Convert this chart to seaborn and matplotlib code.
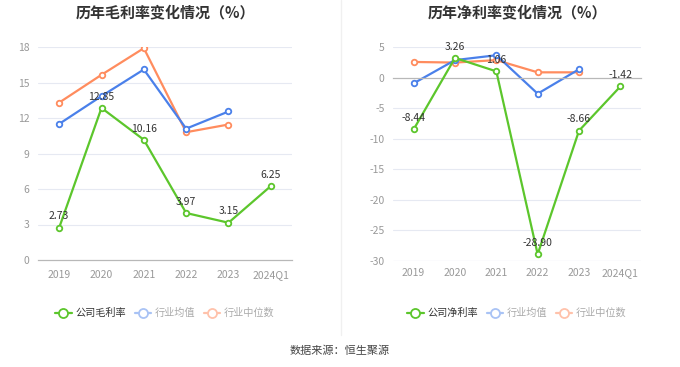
import matplotlib
matplotlib.use("Agg")
import matplotlib.pyplot as plt
import seaborn as sns
import pandas as pd
from matplotlib.lines import Line2D

sns.set_theme(style="white")
plt.rcParams['font.family'] = ['Noto Sans CJK SC', 'DejaVu Sans']

years = ["2019", "2020", "2021", "2022", "2023", "2024Q1"]

gross_company = [2.73, 12.85, 10.16, 3.97, 3.15, 6.25]
gross_avg = [11.5, 13.85, 16.1, 11.1, 12.55, None]
gross_median = [13.3, 15.65, 17.9, 10.8, 11.45, None]

net_company = [-8.44, 3.26, 1.06, -28.90, -8.66, -1.42]
net_avg = [-0.9, 2.9, 3.7, -2.6, 1.4, None]
net_median = [2.6, 2.5, 2.9, 0.9, 0.9, None]

gross_names = ["公司毛利率", "行业均值", "行业中位数"]
net_names = ["公司净利率", "行业均值", "行业中位数"]
titles = ["历年毛利率变化情况（%）", "历年净利率变化情况（%）"]
source = "数据来源：恒生聚源"

C_GREEN = "#5cc62c"
C_BLUE = "#4a80ea"
C_ORANGE = "#ff8c5e"
C_BLUE_L = "#a9c3f5"
C_ORANGE_L = "#ffc2ab"


def make_df(names, comp, avg, med):
    rows = []
    for name, vals in zip(names, [comp, avg, med]):
        for i, v in enumerate(vals):
            if v is not None:
                rows.append({"x": i, "v": v, "s": name})
    return pd.DataFrame(rows)


fig = plt.figure(figsize=(6.8, 3.67), dpi=100)
ax1 = fig.add_axes([38/680, 1-260/367, (292-38)/680, (260-47)/367])
ax2 = fig.add_axes([393/680, 1-261/367, (641-393)/680, (261-47.3)/367])

grid_c = "#e6e9f2"
tick_c = "#999999"
axis_c = "#b8b8b8"


def draw(ax, names, comp, avg, med, ylim, yticks, zero_axis):
    df = make_df(names, comp, avg, med)
    pal = {names[0]: C_GREEN, names[1]: C_BLUE, names[2]: C_ORANGE}
    order = [names[2], names[1], names[0]]
    for nm in order:
        sub = df[df.s == nm]
        sns.lineplot(data=sub, x="x", y="v", color=pal[nm], ax=ax, marker="o",
                     markersize=4, markerfacecolor="white", markeredgecolor=pal[nm],
                     markeredgewidth=1.3, linewidth=1.6, legend=False, zorder=3 if nm == names[0] else 2)
    for i, v in enumerate(comp):
        ax.annotate(f"{v:.2f}", (i, v), xytext=(0, 4.5), textcoords="offset points",
                    ha="center", va="bottom", fontsize=7.5, color="#333333", zorder=5)
    ax.set_xlim(-0.5, 5.5)
    ax.set_ylim(*ylim)
    ax.set_yticks(yticks)
    ax.set_yticklabels([str(t) for t in yticks], fontsize=7.5, color=tick_c)
    ax.tick_params(axis="y", length=0, pad=6)
    for t in yticks:
        if t != 0:
            ax.axhline(t, color=grid_c, linewidth=0.8, zorder=0)
    for sp in ["top", "right", "left"]:
        ax.spines[sp].set_visible(False)
    ax.set_xlabel("")
    ax.set_ylabel("")
    if zero_axis:
        ax.spines["bottom"].set_position(("data", 0))
        ax.spines["bottom"].set_color(axis_c)
        ax.spines["bottom"].set_linewidth(0.9)
        ax.set_xticks(range(len(years)))
        ax.tick_params(axis="x", length=4, color=axis_c, width=0.9, labelbottom=False, direction="out")
        ax.axhline(ylim[0], color=grid_c, linewidth=0.8, zorder=0)
        sec = ax.secondary_xaxis("bottom")
        sec.set_xticks(range(len(years)))
        sec.set_xticklabels(years, fontsize=7.5, color=tick_c)
        sec.tick_params(length=0, pad=5)
        sec.spines["bottom"].set_visible(False)
    else:
        ax.spines["bottom"].set_color(axis_c)
        ax.spines["bottom"].set_linewidth(0.9)
        ax.set_xticks(range(len(years)))
        ax.set_xticklabels(years, fontsize=7.5, color=tick_c)
        ax.tick_params(axis="x", length=4, color=axis_c, width=0.9, pad=3, direction="out")

    handles = [
        Line2D([0], [0], color=C_GREEN, marker="o", markersize=6.5, markerfacecolor="white",
               markeredgewidth=1.3, linewidth=1.6),
        Line2D([0], [0], color=C_BLUE_L, marker="o", markersize=6.5, markerfacecolor="white",
               markeredgewidth=1.3, linewidth=1.6),
        Line2D([0], [0], color=C_ORANGE_L, marker="o", markersize=6.5, markerfacecolor="white",
               markeredgewidth=1.3, linewidth=1.6),
    ]
    leg = ax.legend(handles, names, loc="center", bbox_to_anchor=(0.5, (1 - 313/367 - ax.get_position().y0) / ax.get_position().height),
                    ncol=3, frameon=False, fontsize=7.3, handlelength=1.6, handletextpad=0.35,
                    columnspacing=0.9)
    for i, t in enumerate(leg.get_texts()):
        t.set_color("#333333" if i == 0 else "#aaaaaa")


draw(ax1, gross_names, gross_company, gross_avg, gross_median, (0, 18), [0, 3, 6, 9, 12, 15, 18], False)
draw(ax2, net_names, net_company, net_avg, net_median, (-30, 5), [-30, -25, -20, -15, -10, -5, 0, 5], True)

fig.text(165/680, 1-12/367, titles[0], ha="center", va="center", fontsize=10.8, fontweight="bold", color="#333333")
fig.text(517/680, 1-12/367, titles[1], ha="center", va="center", fontsize=10.8, fontweight="bold", color="#333333")
fig.text(0.5, 1-351/367, source, ha="center", va="center", fontsize=8, color="#444444")
fig.add_artist(Line2D([341/680, 341/680], [1-335/367, 1.0], color="#f0f0f0", linewidth=1))

fig.savefig("out.png", dpi=100)
